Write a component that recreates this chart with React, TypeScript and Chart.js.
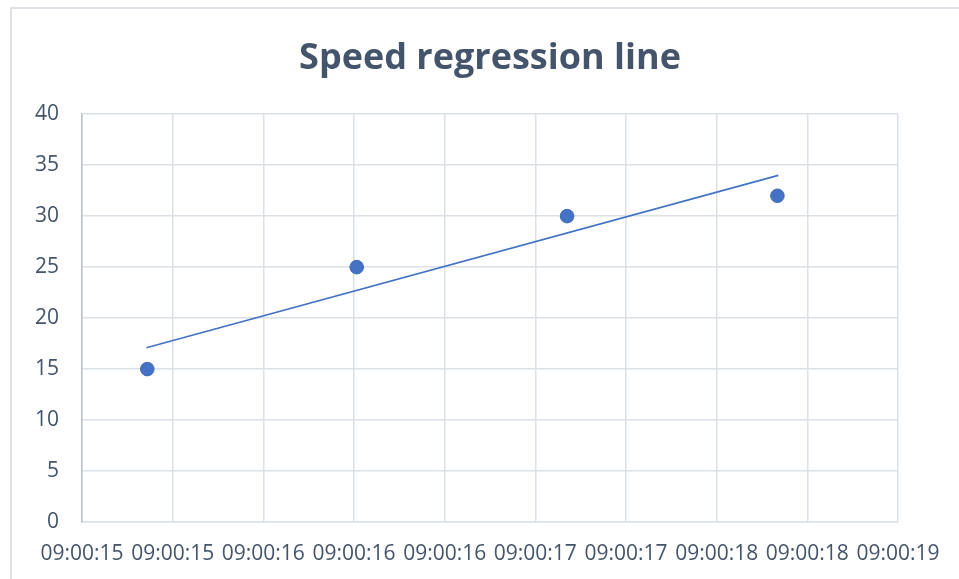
import React, { useEffect, useRef } from "react";
import { Chart, registerables } from "chart.js";

Chart.register(...registerables);

const chartTitle = "Speed regression line";
const xTickLabels = [
  "09:00:15", "09:00:15", "09:00:16", "09:00:16", "09:00:16",
  "09:00:17", "09:00:17", "09:00:18", "09:00:18", "09:00:19",
];
// x positions measured in tick-interval units along the time axis
const pointX = [0.72, 3.03, 5.35, 7.67];
const speeds = [15, 25, 30, 32];
const trendX = [0.71, 7.68];
const trendY = [17.1, 34.0];
const yMin = 0;
const yMax = 40;
const yStep = 5;

const FONT = "'Open Sans', sans-serif";
const TEXT = "#44546A";
const GRID = "#DCE1E8";

export default function App() {
  const ref = useRef<HTMLCanvasElement | null>(null);

  useEffect(() => {
    if (!ref.current) return;
    const chart = new Chart(ref.current, {
      type: "scatter",
      data: {
        datasets: [
          {
            label: "Trend",
            data: trendX.map((x, i) => ({ x, y: trendY[i] })),
            showLine: true,
            borderColor: "#4472C4",
            borderWidth: 1.6,
            pointRadius: 0,
            pointHoverRadius: 0,
            order: 2,
          },
          {
            label: "Speed",
            data: pointX.map((x, i) => ({ x, y: speeds[i] })),
            backgroundColor: "#4472C4",
            borderColor: "#3F6BB8",
            borderWidth: 1,
            pointRadius: 6.8,
            order: 1,
          },
        ],
      },
      options: {
        animation: false,
        responsive: false,
        maintainAspectRatio: false,
        layout: { padding: { left: 0, right: 61, top: 0, bottom: 0 } },
        plugins: {
          legend: { display: false },
          tooltip: { enabled: false },
          title: {
            display: true,
            text: chartTitle,
            fullSize: false,
            color: TEXT,
            font: { family: FONT, size: 36, weight: "bold", lineHeight: 1.2 },
            padding: { top: 37, bottom: 34 },
          },
        },
        scales: {
          x: {
            type: "linear",
            min: 0,
            max: xTickLabels.length - 1,
            afterFit: (s: any) => { s.height = 57; },
            ticks: {
              stepSize: 1,
              autoSkip: false,
              maxRotation: 0,
              minRotation: 0,
              padding: 19,
              color: TEXT,
              font: { family: FONT, size: 21 },
              callback: (v: any) => xTickLabels[Math.round(Number(v))] ?? "",
            },
            grid: { color: GRID, lineWidth: 1.5, drawTicks: false },
            border: { color: GRID, width: 1.5 },
          },
          y: {
            min: yMin,
            max: yMax,
            afterFit: (s: any) => { s.width = 82; },
            ticks: {
              stepSize: yStep,
              padding: 23,
              color: TEXT,
              font: { family: FONT, size: 21 },
            },
            grid: { color: GRID, lineWidth: 1.5, drawTicks: false },
            border: { color: "#B9C1CD", width: 1.5 },
          },
        },
      },
    });
    return () => chart.destroy();
  }, []);

  return (
    <div style={{ position: "fixed", left: 0, top: 0, width: 959, height: 579, overflow: "hidden", background: "#fff" }}>
      <canvas ref={ref} width={959} height={579} style={{ position: "absolute", left: 0, top: 0, width: 959, height: 579 }} />
      <div style={{ position: "absolute", left: 10, top: 7, width: 1200, height: 1000, border: "2px solid #DEE2E8", pointerEvents: "none" }} />
    </div>
  );
}
